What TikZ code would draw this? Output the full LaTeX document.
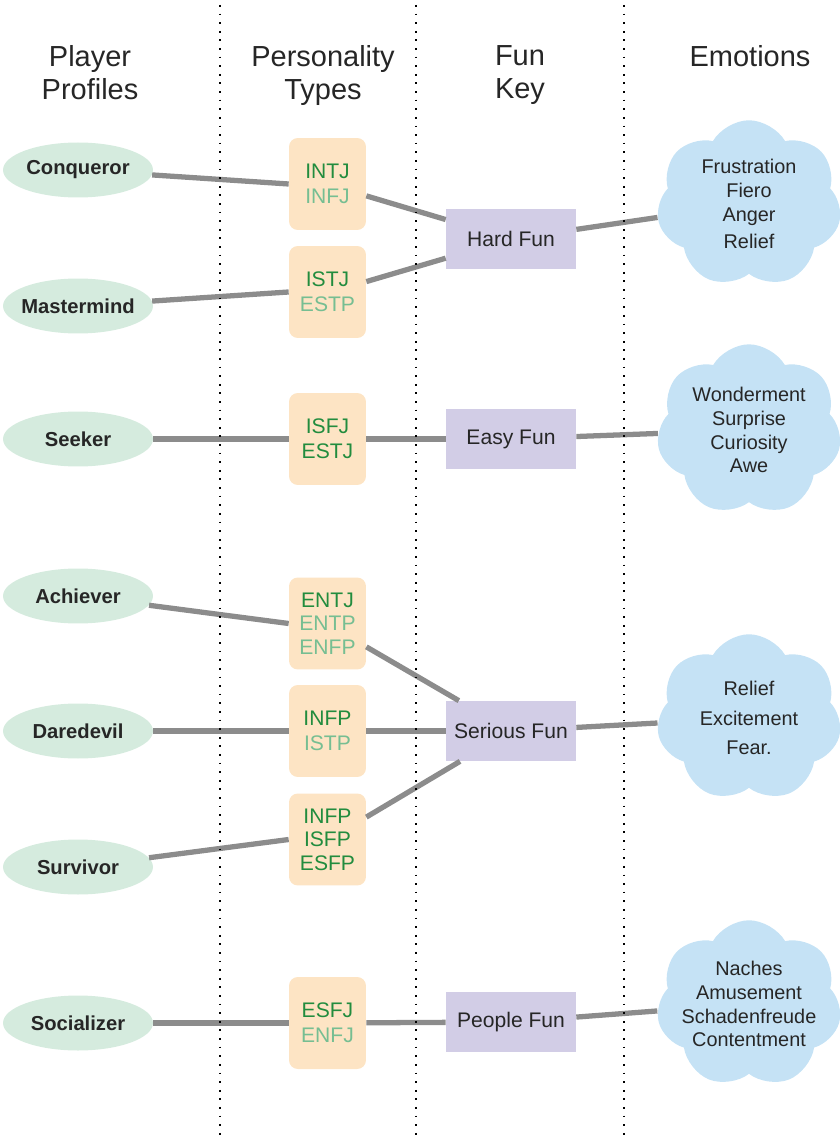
\documentclass[tikz,border=0pt]{standalone}
\usepackage{fontspec}
\setmainfont{Liberation Sans}
\usepackage{tikz}
\usetikzlibrary{shapes.geometric,shapes.symbols}

\definecolor{profgreen}{RGB}{213,235,222}
\definecolor{typepeach}{RGB}{253,228,196}
\definecolor{funlav}{RGB}{210,205,230}
\definecolor{emosky}{RGB}{197,226,245}
\definecolor{dkgreen}{RGB}{34,140,62}
\definecolor{ltgreen}{RGB}{118,190,146}
\definecolor{linkgray}{RGB}{140,140,140}

\tikzset{head/.style = {anchor=north, align=center, font=\fontsize{16.5}{18.7}\selectfont, text=black!85}}
\tikzset{profile/.style = {ellipse, fill=profgreen, minimum width=3cm, minimum height=1.1cm, inner xsep=-12pt, inner ysep=0pt,
        font=\fontsize{11.5}{13}\selectfont\bfseries, text=black!85}}
\tikzset{ptype/.style = {rectangle, rounded corners=5pt, fill=typepeach, minimum width=1.54cm, minimum height=1.84cm,
        inner sep=0pt, align=center, font=\fontsize{12}{14.2}\selectfont}}
\tikzset{funkey/.style = {rectangle, fill=funlav, minimum width=2.6cm, minimum height=1.2cm, inner sep=0pt,
        font=\fontsize{12}{14}\selectfont, text=black!85}}
\tikzset{emotion/.style = {cloud, cloud puffs=7, cloud puff arc=120, aspect=1.1, fill=emosky, minimum width=3.7cm,
        minimum height=3.35cm, inner sep=0pt, align=center, font=\fontsize{11.3}{13.6}\selectfont, text=black!85}}
\tikzset{link/.style = {draw=linkgray, line width=3pt}}
\tikzset{colsep/.style = {line width=1pt, dash pattern=on 1pt off 3.9pt}}

\newcommand{\dk}[1]{\textcolor{dkgreen}{#1}}
\newcommand{\lt}[1]{\textcolor{ltgreen}{#1}}

\begin{document}
\begin{tikzpicture}[x=0.02cm, y=-0.02cm]
    \useasboundingbox (0,0) rectangle (839,1141);

    % column headings
    \node[head] (hplay) at (90,39) {Player\\Profiles};
    \node[head] (htype) at (323,39) {Personality\\Types};
    \node[head] (hfun) at (520,39) {Fun\\Key};
    \node[head] (hemo) at (750,39) {Emotions};

    % player profiles
    \node[profile] (conq) at (78,170) {Conqueror};
    \node[profile] (mast) at (78,306) {Mastermind};
    \node[profile] (seek) at (78,439) {Seeker};
    \node[profile] (achi) at (78,596) {Achiever};
    \node[profile] (dare) at (78,731) {Daredevil};
    \node[profile] (surv) at (78,867) {Survivor};
    \node[profile] (soci) at (78,1023) {Socializer};

    % personality types
    \node[ptype] (intj) at (327.5,184) {\dk{INTJ}\\\lt{INFJ}};
    \node[ptype] (istj) at (327.5,292) {\dk{ISTJ}\\\lt{ESTP}};
    \node[ptype] (isfj) at (327.5,439) {\dk{ISFJ}\\\dk{ESTJ}};
    \node[ptype, font=\fontsize{12}{13.3}\selectfont] (entj) at (327.5,623.5) {\dk{ENTJ}\\\lt{ENTP}\\\lt{ENFP}};
    \node[ptype] (infp) at (327.5,731) {\dk{INFP}\\\lt{ISTP}};
    \node[ptype, font=\fontsize{12}{13.3}\selectfont] (isfp) at (327.5,839.5) {\dk{INFP}\\\dk{ISFP}\\\dk{ESFP}};
    \node[ptype] (esfj) at (327.5,1023) {\dk{ESFJ}\\\lt{ENFJ}};

    % fun keys
    \node[funkey] (hard) at (511,239) {Hard Fun};
    \node[funkey] (easy) at (511,439) {Easy Fun};
    \node[funkey] (serious) at (511,731) {Serious Fun};
    \node[funkey] (people) at (511,1022) {People Fun};

    % emotions
    \node[emotion] (emohard) at (749,204) {Frustration\\Fiero\\Anger\\[2pt]Relief};
    \node[emotion] (emoeasy) at (749,430) {Wonderment\\Surprise\\Curiosity\\Awe};
    \node[emotion] (emoserious) at (749,718) {Relief\\[3pt]Excitement\\[3pt]Fear.};
    \node[emotion, inner xsep=-9pt] (emopeople) at (749,1004) {Naches\\Amusement\\Schadenfreude\\Contentment};

    % profiles to types
    \draw[link] (conq) -- (intj.west);
    \draw[link] (mast) -- (istj.west);
    \draw[link] (seek) -- (isfj);
    \draw[link] (achi) -- (entj.west);
    \draw[link] (dare) -- (infp);
    \draw[link] (surv) -- (isfp.west);
    \draw[link] (soci) -- (esfj);

    % types to fun keys
    \draw[link] (intj.-17) -- (hard);
    \draw[link] (istj.15) -- (hard);
    \draw[link] (isfj) -- (easy);
    \draw[link] (entj.-31) -- (serious);
    \draw[link] (infp) -- (serious);
    \draw[link] (isfp.30) -- (serious);
    \draw[link] (esfj) -- (people);

    % fun keys to emotions
    \draw[link] (hard) -- (emohard);
    \draw[link] (easy) -- (emoeasy);
    \draw[link] (serious) -- (emoserious);
    \draw[link] (people) -- (emopeople);

    % column separators
    \draw[colsep] (220,5) -- (220,1141);
    \draw[colsep] (416,5) -- (416,1141);
    \draw[colsep] (624,5) -- (624,1141);
\end{tikzpicture}
\end{document}
